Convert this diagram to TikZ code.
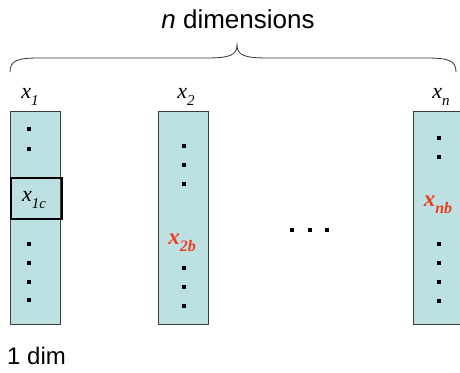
\documentclass[tikz,border=0pt]{standalone}
\usepackage{fontspec}
\setmainfont{Liberation Sans}
\newfontfamily\serifit{Liberation Serif Italic}
\newfontfamily\serifbi{Liberation Serif Bold Italic}
\definecolor{colfill}{RGB}{189,224,227}
\definecolor{colline}{RGB}{60,60,60}
\definecolor{redlab}{RGB}{240,60,30}
\newcommand\xlab[1]{{\serifit\fontsize{22}{22}\selectfont x\raisebox{-0.32em}{\fontsize{15}{15}\selectfont #1}}}
\newcommand\xlabb[1]{{\serifbi\fontsize{23}{23}\selectfont x\raisebox{-0.32em}{\fontsize{16}{16}\selectfont #1}}}
\begin{document}
\begin{tikzpicture}[x=1pt,y=-1pt,
  colbox/.style={draw=colline,fill=colfill,line width=0.9pt,minimum width=50pt,minimum height=213pt,inner sep=0pt,anchor=north west},
  dotsq/.style={fill=black,minimum size=4pt,inner sep=0pt,draw=none,rectangle},
  lab/.style={inner sep=0pt}]
\useasboundingbox (0,0) rectangle (460,372);
% title
\node[lab,font=\fontsize{26}{26}\selectfont] (title) at (238,19) {\textit{n} dimensions};
% brace
\draw[line width=0.8pt,draw=black!80] (10,72) .. controls (10,60) and (18,58) .. (40,58) -- (205,58) .. controls (228,58) and (237,56) .. (237,45) .. controls (237,56) and (246,58) .. (269,58) -- (425,58) .. controls (448,58) and (456,60) .. (456,72);
% column labels
\node[lab] (l1) at (30,97) {\xlab{1}};
\node[lab] (l2) at (186,97) {\xlab{2}};
\node[lab] (ln) at (441,97) {\xlab{n}};
% columns
\node[colbox] (c1) at (10,111) {};
\node[colbox] (c2) at (158,111) {};
\node[colbox] (cn) at (413,111) {};
% highlighted cell
\node[draw=black,line width=2pt,minimum width=51pt,minimum height=41pt,inner sep=0pt,anchor=north west] (h1) at (9.5,177) {};
\node[lab] (x1c) at (34,200) {\xlab{1c}};
% red labels
\node[lab,text=redlab] (x2b) at (182,243) {\xlabb{2b}};
\node[lab,text=redlab] (xnb) at (438,205) {\xlabb{nb}};
% dots column 1
\foreach \y [count=\i] in {129,149,244,263,282,300} \node[dotsq] (d1\i) at (28.5,\y) {};
% dots column 2
\foreach \y [count=\i] in {146,165,184,268,287,306} \node[dotsq] (d2\i) at (184,\y) {};
% dots column n
\foreach \y [count=\i] in {138,157,244,263,282,301} \node[dotsq] (dn\i) at (439,\y) {};
% ellipsis
\foreach \x [count=\i] in {292,310,327} \node[dotsq] (e\i) at (\x,230) {};
% 1 dim
\node[lab,font=\fontsize{24}{24}\selectfont,anchor=west] (dim) at (7,356) {1 dim};
\end{tikzpicture}
\end{document}
